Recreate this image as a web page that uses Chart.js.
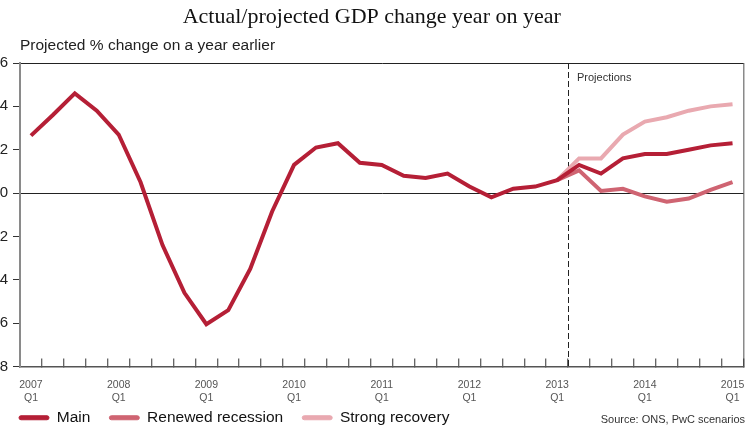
<!DOCTYPE html>
<html>
<head>
<meta charset="utf-8">
<script src="https://cdn.jsdelivr.net/npm/chart.js@4/dist/chart.umd.min.js"></script>
<style>
html,body{margin:0;padding:0;background:#fff;overflow:hidden}
#wrap{position:relative;width:747px;height:425px}
</style>
</head>
<body>
<div id="wrap"><canvas id="c" width="747" height="425"></canvas></div>
<script>
// ---- Data ----
const categories = [
  '2007 Q1','2007 Q2','2007 Q3','2007 Q4',
  '2008 Q1','2008 Q2','2008 Q3','2008 Q4',
  '2009 Q1','2009 Q2','2009 Q3','2009 Q4',
  '2010 Q1','2010 Q2','2010 Q3','2010 Q4',
  '2011 Q1','2011 Q2','2011 Q3','2011 Q4',
  '2012 Q1','2012 Q2','2012 Q3','2012 Q4',
  '2013 Q1','2013 Q2','2013 Q3','2013 Q4',
  '2014 Q1','2014 Q2','2014 Q3','2014 Q4',
  '2015 Q1'
];
const mainValues = [2.65, 3.6, 4.6, 3.8, 2.7, 0.5, -2.4, -4.6, -6.05, -5.4, -3.5, -0.85,
  1.3, 2.1, 2.3, 1.4, 1.3, 0.8, 0.7, 0.9, 0.3, -0.2, 0.2, 0.3,
  0.6, 1.3, 0.9, 1.6, 1.8, 1.8, 2.0, 2.2, 2.3];
const recessionValues = [null, null, null, null, null, null, null, null, null, null, null, null,
  null, null, null, null, null, null, null, null, null, null, null, null,
  0.6, 1.05, 0.1, 0.2, -0.15, -0.4, -0.25, 0.15, 0.5];
const recoveryValues = [null, null, null, null, null, null, null, null, null, null, null, null,
  null, null, null, null, null, null, null, null, null, null, null, null,
  0.6, 1.6, 1.6, 2.7, 3.3, 3.5, 3.8, 4.0, 4.1];
const seriesNames = ['Main', 'Renewed recession', 'Strong recovery'];
const yTicks = [-8, -6, -4, -2, 0, 2, 4, 6];
const lastActual = '2013 Q1';

const titleText = 'Actual/projected GDP change year on year';
const subtitleText = 'Projected % change on a year earlier';
const projectionsText = 'Projections';
const sourceText = 'Source: ONS, PwC scenarios';

// ---- Styles ----
const colMain = '#b51f36';
const colRec = '#cf6472';
const colStrong = '#e9a9b0';
const SANS = '"Liberation Sans", Arial, sans-serif';
const SERIF = '"Liberation Serif", "Times New Roman", serif';

Chart.defaults.font.family = SANS;
Chart.defaults.color = '#222';

const extras = {
  id: 'extras',
  beforeDatasetsDraw(chart) {
    const {ctx, chartArea: a, scales: {x}} = chart;
    const i = categories.indexOf(lastActual);
    const px = Math.round((x.getPixelForValue(i) + x.getPixelForValue(i + 1)) / 2) + 0.5;
    ctx.save();
    ctx.strokeStyle = '#222';
    ctx.lineWidth = 1;
    ctx.setLineDash([6, 3]);
    ctx.beginPath();
    ctx.moveTo(px, a.top);
    ctx.lineTo(px, a.bottom);
    ctx.stroke();
    ctx.setLineDash([]);
    ctx.font = '11px ' + SANS;
    ctx.fillStyle = '#333';
    ctx.textAlign = 'left';
    ctx.textBaseline = 'middle';
    ctx.fillText(projectionsText, px + 8.5, a.top + 14.5);
    ctx.restore();
  },
  afterDraw(chart) {
    const {ctx} = chart;
    const hb = chart.legend && chart.legend.legendHitBoxes && chart.legend.legendHitBoxes[0];
    const cy = hb ? hb.top + hb.height / 2 : chart.height - 8;
    ctx.save();
    ctx.font = '11px ' + SANS;
    ctx.fillStyle = '#333';
    ctx.textAlign = 'right';
    ctx.textBaseline = 'middle';
    ctx.fillText(sourceText, chart.width - 2, cy + 2.5);
    ctx.restore();
  }
};

new Chart(document.getElementById('c'), {
  type: 'line',
  data: {
    labels: categories,
    datasets: [
      {label: seriesNames[0], data: mainValues, borderColor: colMain, backgroundColor: colMain},
      {label: seriesNames[1], data: recessionValues, borderColor: colRec, backgroundColor: colRec},
      {label: seriesNames[2], data: recoveryValues, borderColor: colStrong, backgroundColor: colStrong}
    ]
  },
  options: {
    responsive: false,
    animation: false,
    devicePixelRatio: 1,
    elements: {
      line: {borderWidth: 4, tension: 0, fill: false},
      point: {radius: 0, hoverRadius: 0}
    },
    layout: {padding: {top: 0, left: 0, right: 3.5, bottom: -10.5}},
    plugins: {
      tooltip: {enabled: false},
      title: {
        display: true, text: titleText, color: '#111',
        font: {family: SERIF, size: 22, weight: 'normal', lineHeight: 1.2},
        padding: {top: 4, bottom: 2}
      },
      subtitle: {
        display: true, text: subtitleText, color: '#222', align: 'start', fullSize: false,
        font: {family: SANS, size: 15.5, weight: 'normal', lineHeight: 1.2},
        padding: {top: 4, bottom: 8}
      },
      legend: {
        position: 'bottom', align: 'start',
        labels: {
          boxWidth: 30, boxHeight: 4, padding: 19, color: '#111',
          useBorderRadius: true, borderRadius: 2,
          font: {family: SANS, size: 15.5},
          generateLabels(chart) {
            const items = Chart.defaults.plugins.legend.labels.generateLabels(chart);
            return items.map(it => Object.assign(it, {fillStyle: it.strokeStyle, lineWidth: 1}));
          }
        }
      }
    },
    scales: {
      x: {
        type: 'category',
        offset: true,
        grid: {
          offset: true,
          drawOnChartArea: true,
          color: c => c.tick ? 'rgba(0,0,0,0)' : '#8a8a8a',
          lineWidth: 1.5,
          tickColor: '#333',
          tickWidth: 1,
          tickLength: -8
        },
        border: {display: true, color: '#555', width: 1.5},
        ticks: {
          autoSkip: false, maxRotation: 0, minRotation: 0, padding: 20,
          color: '#555',
          font: {family: SANS, size: 10.5, lineHeight: 1.25},
          callback(value, index) {
            const lab = categories[index];
            return lab.endsWith('Q1') ? lab.split(' ') : '';
          }
        },
        afterFit(scale) {
          scale.height = 24.5;
          scale.paddingLeft = 0;
          scale.paddingRight = 0;
          // let the two-line labels run below the (short) axis box
          scale._computeLabelArea = () => undefined;
        }
      },
      y: {
        min: yTicks[0], max: yTicks[yTicks.length - 1],
        afterBuildTicks(scale) { scale.ticks = yTicks.map(v => ({value: v})); },
        grid: {
          color: c => (c.tick && (c.tick.value === 0 || c.tick.value === 6)) ? '#222' : 'rgba(0,0,0,0)',
          lineWidth: 1,
          tickColor: '#333',
          tickLength: 7
        },
        border: {display: true, color: '#8a8a8a', width: 2},
        ticks: {
          padding: 5, color: '#222',
          font: {family: SANS, size: 15}
        },
        afterFit(scale) { scale.width = 20; }
      }
    }
  },
  plugins: [extras]
});
</script>
</body>
</html>
